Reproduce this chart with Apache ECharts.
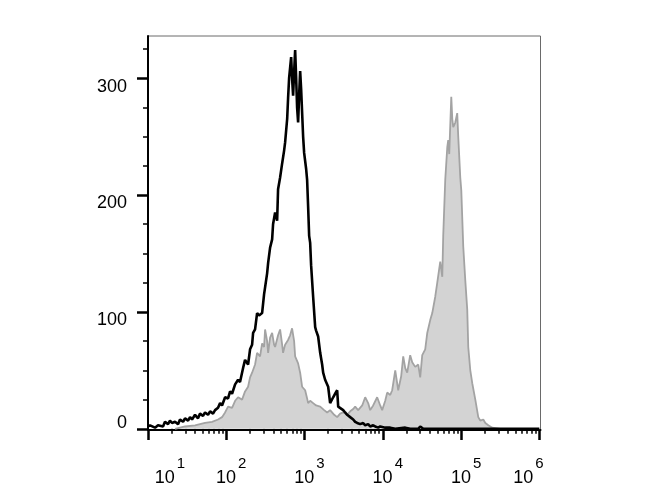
<!DOCTYPE html>
<html>
<head>
<meta charset="utf-8">
<script src="https://cdn.jsdelivr.net/npm/echarts@6/dist/echarts.min.js"></script>
<style>html,body{margin:0;padding:0;background:#fff;}#c{width:670px;height:500px;}</style>
</head>
<body>
<div id="c"></div>
<script>
// x positions are log10(fluorescence intensity); y = event count
const blackX = [1.000,1.026,1.051,1.090,1.128,1.153,1.192,1.217,1.256,1.281,1.307,1.345,1.384,1.409,1.448,1.473,1.512,1.537,1.563,1.601,1.639,1.665,1.703,1.729,1.767,1.793,1.831,1.857,1.895,1.921,1.946,1.985,2.023,2.049,2.074,2.113,2.151,2.176,2.215,2.240,2.279,2.304,2.330,2.343,2.368,2.394,2.419,2.458,2.483,2.496,2.522,2.535,2.560,2.586,2.598,2.624,2.650,2.662,2.688,2.714,2.739,2.752,2.778,2.790,2.803,2.829,2.841,2.854,2.867,2.880,2.893,2.905,2.918,2.931,2.944,2.957,2.982,2.995,3.021,3.033,3.046,3.059,3.072,3.084,3.110,3.136,3.148,3.174,3.200,3.225,3.238,3.263,3.302,3.327,3.366,3.391,3.417,3.430,3.455,3.494,3.519,3.545,3.583,3.622,3.647,3.673,3.711,3.749,3.775,3.813,3.839,3.877,3.903,3.941,3.967,4.031,4.095,4.159,4.287,4.350,4.453,4.478,4.517,6.000];
const blackY = [2,3,2,1,3,4,2,6,4,7,5,6,4,8,6,9,7,10,8,12,9,13,11,14,12,15,13,16,18,22,20,27,26,32,30,38,42,40,52,59,55,68,72,82,85,99,97,99,115,121,133,142,155,162,175,185,178,205,215,227,238,245,265,283,300,318,300,285,305,324,300,275,262,285,306,290,250,236,222,213,190,165,159,140,113,87,84,79,65,55,48,42,36,22,27,30,33,19,18,16,14,12,10,8,6,5,4,5,3,4,2,3,2,1,2,1,1,0,1,0,0,2,0,0];

const grayX = [1.345,1.473,1.601,1.729,1.818,1.895,1.946,1.985,2.023,2.074,2.113,2.151,2.202,2.240,2.279,2.304,2.330,2.368,2.394,2.432,2.458,2.483,2.496,2.522,2.535,2.560,2.586,2.611,2.624,2.662,2.688,2.714,2.726,2.752,2.790,2.816,2.841,2.867,2.880,2.918,2.944,2.969,3.008,3.033,3.046,3.072,3.110,3.148,3.200,3.251,3.289,3.327,3.379,3.417,3.455,3.494,3.545,3.583,3.622,3.647,3.685,3.737,3.775,3.813,3.839,3.877,3.928,3.967,3.992,4.031,4.056,4.095,4.120,4.159,4.197,4.235,4.261,4.287,4.312,4.350,4.376,4.414,4.453,4.478,4.504,4.542,4.568,4.606,4.632,4.670,4.696,4.734,4.760,4.772,4.798,4.824,4.836,4.849,4.875,4.888,4.900,4.926,4.951,4.964,4.990,5.003,5.028,5.054,5.079,5.092,5.118,5.143,5.182,5.220,5.246,5.284,5.310,5.348,5.399,5.501,6.000];
const grayY = [0,2,3,5,6,8,10,14,19,18,24,27,25,32,36,44,48,55,65,62,73,70,85,75,65,78,82,72,70,80,85,72,65,72,76,80,86,75,62,56,48,36,33,26,22,24,22,20,19,16,14,16,12,10,13,14,12,15,17,19,16,20,27,22,16,20,27,20,16,24,31,29,33,50,33,45,62,52,48,63,57,53,55,44,63,68,82,93,99,113,125,143,130,165,213,241,247,235,284,265,258,262,270,250,215,204,156,127,102,70,50,39,25,10,7,8,5,3,1,0,0];

// axis ticks / labels
const xMajor = [1, 2, 3, 4, 5, 6];           // decades: 10^1 ... 10^6
const xMinorFactors = [2, 3, 4, 5, 6, 7, 8, 9];
const yMajor = [0, 100, 200, 300];
const yMinor = [25, 50, 75, 125, 150, 175, 225, 250, 275, 325];

const xMinor = [];
xMajor.slice(0, -1).forEach(function (e) {
  xMinorFactors.forEach(function (k) { xMinor.push(e + Math.log10(k)); });
});

const FONT = 'Liberation Sans, Arial, sans-serif';
const pair = (xs, ys) => xs.map((x, i) => [x, ys[i]]);

const chart = echarts.init(document.getElementById('c'), null, { renderer: 'canvas' });
chart.setOption({
  animation: false,
  backgroundColor: '#ffffff',
  grid: {
    left: 148, right: 129.5, top: 36, bottom: 70,
    show: true, borderColor: '#6a6a6a', borderWidth: 1, backgroundColor: 'transparent'
  },
  xAxis: [
    {
      type: 'value', min: 1, max: 6.015, position: 'bottom',
      axisLine: { show: true, onZero: false, lineStyle: { color: '#000', width: 2 } },
      axisTick: { show: true, customValues: xMajor, length: 10, lineStyle: { color: '#000', width: 2.5 } },
      splitLine: { show: false },
      axisLabel: {
        customValues: xMajor, margin: 32, color: '#000', fontFamily: FONT,
        formatter: function (v) {
          if (v === 1) return '{b1|10}{s|' + v + '}';
          if (v === 6) return '{b|10}{s6|' + v + '}';
          return '{b|10}{s|' + v + '}';
        },
        rich: {
          b: { fontSize: 18, fontFamily: FONT, color: '#000', lineHeight: 18, padding: [15, 0, 0, 10] },
          b1: { fontSize: 18, fontFamily: FONT, color: '#000', lineHeight: 18, padding: [15, 0, 0, 44] },
          s: { fontSize: 15, fontFamily: FONT, color: '#000', lineHeight: 15, padding: [2, 0, 16, 2] },
          s6: { fontSize: 15, fontFamily: FONT, color: '#000', lineHeight: 15, padding: [2, 32, 16, 2] }
        }
      }
    },
    {
      type: 'value', min: 1, max: 6.015, position: 'bottom',
      axisLine: { show: false },
      axisTick: { show: true, customValues: xMinor, length: 5, lineStyle: { color: '#000', width: 1.5 } },
      axisLabel: { show: false },
      splitLine: { show: false }
    }
  ],
  yAxis: [
    {
      type: 'value', min: -1, max: 336, position: 'left',
      axisLine: { show: true, onZero: false, lineStyle: { color: '#000', width: 2 } },
      axisTick: { show: true, customValues: yMajor, length: 11, lineStyle: { color: '#000', width: 2.5 } },
      splitLine: { show: false },
      axisLabel: {
        customValues: yMajor, margin: 21, color: '#000', fontFamily: FONT, fontSize: 18,
        formatter: function (v) { return v === 0 ? '{z|0}' : '{n|' + v + '}'; },
        rich: {
          n: { fontSize: 18, fontFamily: FONT, color: '#000', padding: [17, 0, 0, 0] },
          z: { fontSize: 18, fontFamily: FONT, color: '#000', padding: [0, 0, 12, 0] }
        }
      }
    },
    {
      type: 'value', min: -1, max: 336, position: 'left',
      axisLine: { show: false },
      axisTick: { show: true, customValues: yMinor, length: 5, lineStyle: { color: '#000', width: 1.5 } },
      axisLabel: { show: false },
      splitLine: { show: false }
    }
  ],
  series: [
    {
      type: 'line', name: 'stained', data: pair(grayX, grayY), xAxisIndex: 0, yAxisIndex: 0,
      symbol: 'none', z: 2,
      lineStyle: { color: '#a3a3a3', width: 1.8 },
      areaStyle: { color: '#d3d3d3', opacity: 1, origin: 0 }
    },
    {
      type: 'line', name: 'control', data: pair(blackX, blackY), xAxisIndex: 0, yAxisIndex: 0,
      symbol: 'none', z: 3,
      lineStyle: { color: '#000', width: 2.6 }
    }
  ]
});
</script>
</body>
</html>
